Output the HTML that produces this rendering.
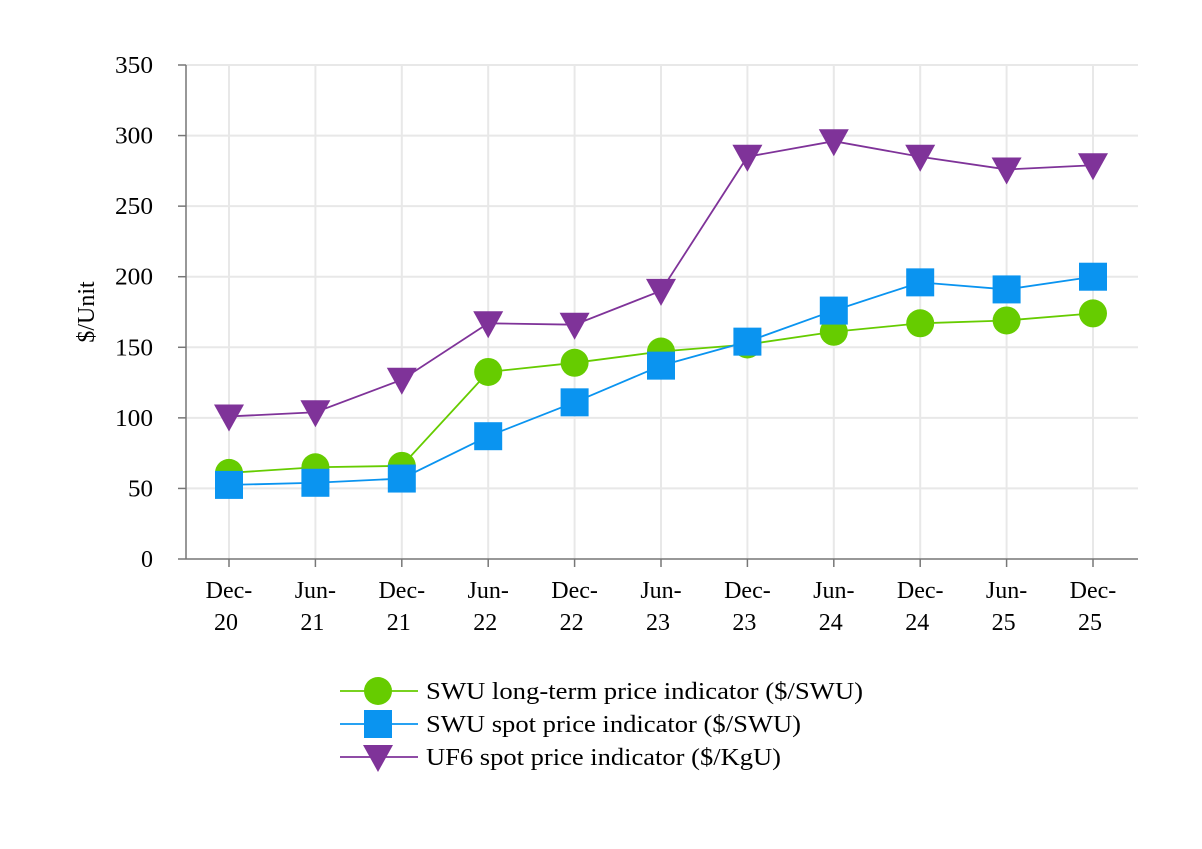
<!DOCTYPE html>
<html><head><meta charset="utf-8"><style>
body{margin:0;background:#fff;}
svg text{font-family:"Liberation Serif",serif;fill:#000;}
</style></head><body>
<svg id="chart" width="1202" height="844">
<g id="grid"></g><g id="axes"></g><g id="series"></g><g id="legend"></g>
</svg>
<script>
const categories=["Dec-20","Jun-21","Dec-21","Jun-22","Dec-22","Jun-23","Dec-23","Jun-24","Dec-24","Jun-25","Dec-25"];
const swuLong=[61,65,66,132.5,139,147,152,161,167,169,174];
const swuSpot=[52.5,54,57,87,111,137,154,176,196,191,200];
const uf6Spot=[101,104,127,167,166,190,285,296,285,276,279];
const yTicks=[0,50,100,150,200,250,300,350];
const seriesNames=["SWU long-term price indicator ($/SWU)","SWU spot price indicator ($/SWU)","UF6 spot price indicator ($/KgU)"];
const legendWidths=[437,375,355];
const NS="http://www.w3.org/2000/svg";
const x0=186,x1=1138,y0=559,yTop=65;
function xs(i){return 229+i*(1093-229)/(categories.length-1);}
function ys(v){return y0-(v/350)*(y0-yTop);}
function mk(tag,attrs,parent){const e=document.createElementNS(NS,tag);for(const k in attrs)e.setAttribute(k,attrs[k]);parent.appendChild(e);return e;}
const grid=document.getElementById('grid'),axes=document.getElementById('axes'),ser=document.getElementById('series'),leg=document.getElementById('legend');
yTicks.forEach(t=>{
  if(t>0){const g=mk('line',{x1:x0,x2:x1,y1:ys(t),y2:ys(t),stroke:'#e8e8e8','stroke-width':2},grid);
  
  }
  const tk=mk('line',{x1:x0-8,x2:x0,y1:ys(t),y2:ys(t),stroke:'#777','stroke-width':1.5},axes);
  
  
  const tx=mk('text',{x:x0-33,y:ys(t)+8,'text-anchor':'end','font-size':24,textLength:t>=100?38:(t>0?25:12),lengthAdjust:'spacingAndGlyphs'},axes);tx.textContent=t;
  
  
});
categories.forEach((c,i)=>{
  const g=mk('line',{x1:xs(i),x2:xs(i),y1:yTop,y2:y0,stroke:'#e8e8e8','stroke-width':2},grid);
  
  
  const tk=mk('line',{x1:xs(i),x2:xs(i),y1:y0,y2:y0+8,stroke:'#777','stroke-width':1.5},axes);
  
  
  const p=c.split('-');
  const t1=mk('text',{x:xs(i),y:598,'text-anchor':'middle','font-size':24},axes);t1.textContent=p[0]+'-';
  
  
  const t2=mk('text',{x:xs(i)-3,y:630,'text-anchor':'middle','font-size':24},axes);t2.textContent=p[1];
  
  
});
const ya=mk('line',{x1:x0,x2:x0,y1:yTop,y2:y0,stroke:'#777','stroke-width':1.5},axes);


const xa=mk('line',{x1:x0,x2:x1,y1:y0,y2:y0,stroke:'#777','stroke-width':1.5},axes);


const yt=mk('text',{x:0,y:0,'text-anchor':'middle','font-size':24,transform:'translate(94,312) rotate(-90)'},axes);yt.textContent='$/Unit';


function marker(type,x,y,color,parent){
  if(type==='circle')return mk('circle',{cx:x,cy:y,r:14,fill:color},parent);
  if(type==='square')return mk('rect',{x:x-14,y:y-14,width:28,height:28,fill:color},parent);
  return mk('path',{d:`M${x-15},${y-12}L${x+15},${y-12}L${x},${y+15}Z`,fill:color},parent);
}
const defs=[[swuLong,'#66cc00','circle','swu-long-term'],[swuSpot,'#0a94f0','square','swu-spot'],[uf6Spot,'#7f3399','triangle','uf6-spot']];
defs.forEach(([vals,col,type,name])=>{
  const g=mk('g',{},ser);
  
  
  const ln=mk('polyline',{points:vals.map((v,i)=>xs(i)+','+ys(v)).join(' '),fill:'none',stroke:col,'stroke-width':1.8},g);
  
  
  vals.forEach((v,i)=>{const m=marker(type,xs(i),ys(v),col,g);
    
    });
});
defs.forEach(([vals,col,type,name],k)=>{
  const y=691+k*33;
  const g=mk('g',{},leg);
  
  
  mk('line',{x1:340,x2:418,y1:y,y2:y,stroke:col,'stroke-width':1.8},g);
  marker(type,378,y,col,g);
  const t=mk('text',{x:426,y:y+8,'font-size':24,textLength:legendWidths[k],lengthAdjust:'spacingAndGlyphs'},g);t.textContent=seriesNames[k];
});
</script>
</body></html>
